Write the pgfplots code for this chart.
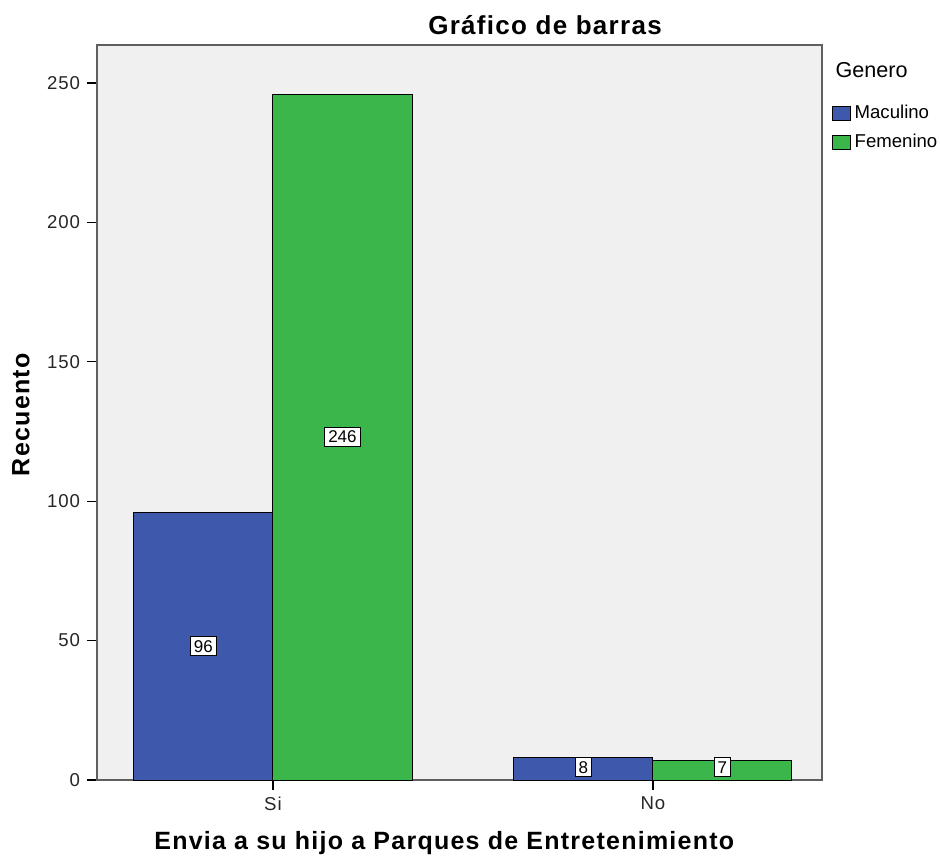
\documentclass[border=0pt]{standalone}
\usepackage{fontspec}
\setmainfont{Liberation Sans}
\usepackage{pgfplots}
\pgfplotsset{compat=1.18}
\definecolor{spssblue}{RGB}{62,88,172}
\definecolor{spssgreen}{RGB}{58,182,74}
\definecolor{plotbg}{RGB}{240,240,240}
\definecolor{frame}{RGB}{95,95,95}
\newcommand{\wide}{\addfontfeature{LetterSpace=5}}

\begin{document}
\begin{tikzpicture}
\useasboundingbox (-48.5pt,-40.5pt) rectangle (421.5pt,390pt);
\begin{axis}[
  scale only axis,
  width=362.5pt, height=367.5pt,
  xmin=-0.463, xmax=1.445,
  ymin=0, ymax=263.6,
  axis background/.style={fill=plotbg},
  axis line style={frame, line width=0.9pt},
  xtick={0,1}, xticklabels={Si,No},
  ytick={0,50,...,250},
  xtick pos=bottom, ytick pos=left,
  tick align=outside,
  major tick length=5pt,
  tick style={black, line width=0.6pt},
  tick label style={font=\fontsize{9.3}{11}\selectfont\wide, color=black!85},
  /pgf/number format/assume math mode=true,
  ylabel={Recuento},
  xlabel={Envia a su hijo a Parques de Entretenimiento},
  every axis y label/.style={at={(rel axis cs:0,0.497)}, xshift=-38pt, rotate=90, anchor=center, font=\bfseries\fontsize{12.5}{14}\selectfont\wide},
  every axis x label/.style={at={(rel axis cs:0.479,0)}, yshift=-31.5pt, anchor=center, font=\bfseries\fontsize{12.5}{14}\selectfont\wide},
  legend style={at={(rel axis cs:1.013,0.924)}, anchor=north west, draw=none, fill=none,
    font=\fontsize{9.3}{10}\selectfont, inner sep=0pt, row sep=2.2pt, cells={anchor=west}},
  legend image code/.code={\draw[#1, draw=black, line width=0.4pt] (0pt,-3.5pt) rectangle (9pt,3.5pt);},
  clip=false,
]
\addplot[ybar, bar width=0.366, bar shift=0pt, fill=spssblue, draw=black, line width=0.5pt]
  coordinates {(-0.183,96) (0.817,8)};
\addplot[ybar, bar width=0.366, bar shift=0pt, fill=spssgreen, draw=black, line width=0.5pt]
  coordinates {(0.183,246) (1.183,7)};
\legend{Maculino,Femenino}
% value labels at mid-height of each bar
\addplot[draw=none, mark=none, forget plot,
  nodes near coords, point meta=explicit symbolic,
  every node near coord/.append style={anchor=center, fill=white, draw=black, line width=0.5pt,
    inner sep=1.8pt, font=\fontsize{8.5}{10}\selectfont, text=black}]
  coordinates {(-0.183,48)[96] (0.183,123)[246] (0.817,4.6)[8] (1.183,4.6)[7]};
\node[anchor=west, font=\fontsize{10.8}{12}\selectfont] at (rel axis cs:1.009,0.966) {Genero};
\node[anchor=center, font=\bfseries\fontsize{13}{15}\selectfont\wide] at (rel axis cs:0.618,1) [yshift=10pt] {Gráfico de barras};
\end{axis}
\end{tikzpicture}
\end{document}
